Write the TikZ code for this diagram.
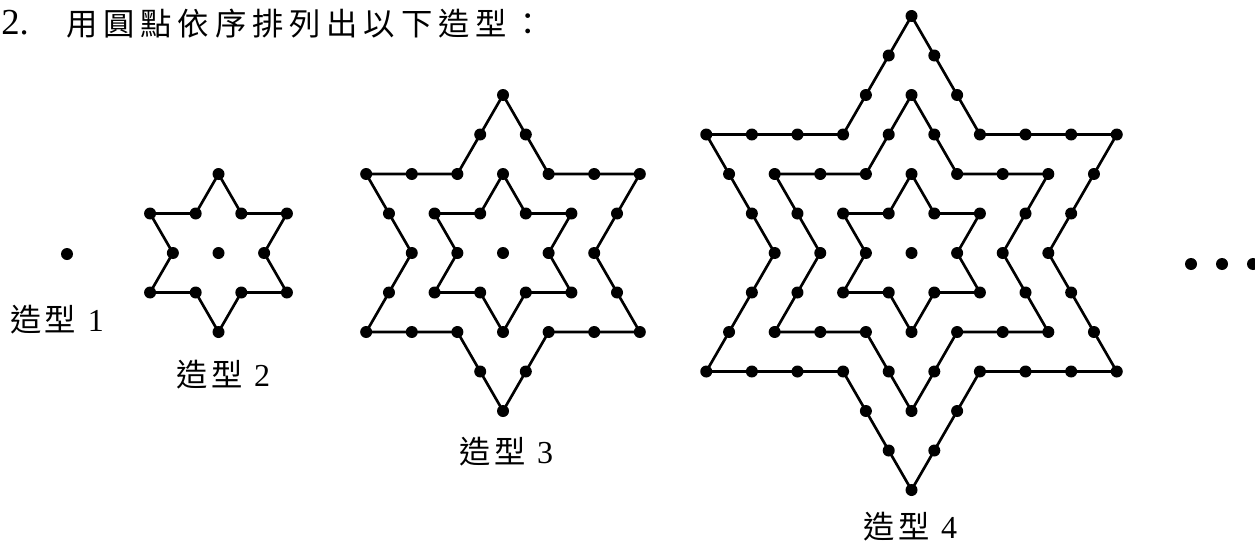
\documentclass[tikz,border=0pt]{standalone}
\usepackage{fontspec}
\setmainfont{Liberation Serif}
\newfontfamily\cjk{Noto Sans CJK TC}
\usetikzlibrary{calc}
\newcommand\cbox[2]{\makebox[#1][l]{#2}}
\newcommand\lab[1]{{\cjk\fontsize{23.5pt}{25pt}\selectfont\cbox{26.25pt}{造}\cbox{26.25pt}{型}}\hspace{6pt}{\fontsize{24pt}{26pt}\selectfont #1}}
\tikzset{
  starline/.style={line width=2pt, line join=miter},
  txt/.style={inner sep=0pt, anchor=base},
  cjkfont/.style={font=\cjk\fontsize{23.5pt}{25pt}\selectfont},
  dotr/.style={radius=6},
}
\begin{document}
\begin{tikzpicture}[x=0.75pt,y=-0.75pt]
\useasboundingbox (0,0) rectangle (1255,546);
% title
\node[txt, anchor=base west] (tnum) at (1,34) {\fontsize{27.5pt}{30pt}\selectfont 2.};
\node[txt, anchor=base west, cjkfont] (ttext) at (66,35) {\cbox{27.9pt}{用}\cbox{27.9pt}{圓}\cbox{27.9pt}{點}\cbox{27.9pt}{依}\cbox{27.9pt}{序}\cbox{27.9pt}{排}\cbox{27.9pt}{列}\cbox{27.9pt}{出}\cbox{27.9pt}{以}\cbox{27.9pt}{下}\cbox{27.9pt}{造}\cbox{27.9pt}{型}\cbox{27.9pt}{：}};
% pattern 1
\fill (67,254) circle[dotr];
% stars
\foreach \cx/\n in {218.5/1, 503/2, 911.5/3}{
  \begin{scope}[shift={(\cx,253)}]
    \fill (0,0) circle[dotr];
    \foreach \k in {1,...,\n}{
      \pgfmathsetmacro\R{79*\k}
      \pgfmathsetmacro\r{79*\k/sqrt(3)}
      \pgfmathtruncatemacro\km{\k-1}
      \foreach \i in {0,...,11}{
        \pgfmathsetmacro\rr{mod(\i,2)==0 ? \R : \r}
        \coordinate (v\i) at ({90+30*\i}:\rr);
      }
      \draw[starline] (v0) -- (v1) -- (v2) -- (v3) -- (v4) -- (v5) -- (v6) -- (v7) -- (v8) -- (v9) -- (v10) -- (v11) -- cycle;
      \foreach \i in {0,...,11}{
        \pgfmathtruncatemacro\nx{mod(\i+1,12)}
        \foreach \j in {0,...,\km}{
          \fill ($(v\i)!{\j/\k}!(v\nx)$) circle[dotr];
        }
      }
    }
  \end{scope}
}
% ellipsis
\foreach \x in {1191,1222,1253}{\fill (\x,264) circle[dotr];}
% labels
\node[txt] (l1) at (57,331) {\lab{1}};
\node[txt] (l2) at (223,386) {\lab{2}};
\node[txt] (l3) at (506,463) {\lab{3}};
\node[txt] (l4) at (910,538) {\lab{4}};
\end{tikzpicture}
\end{document}
